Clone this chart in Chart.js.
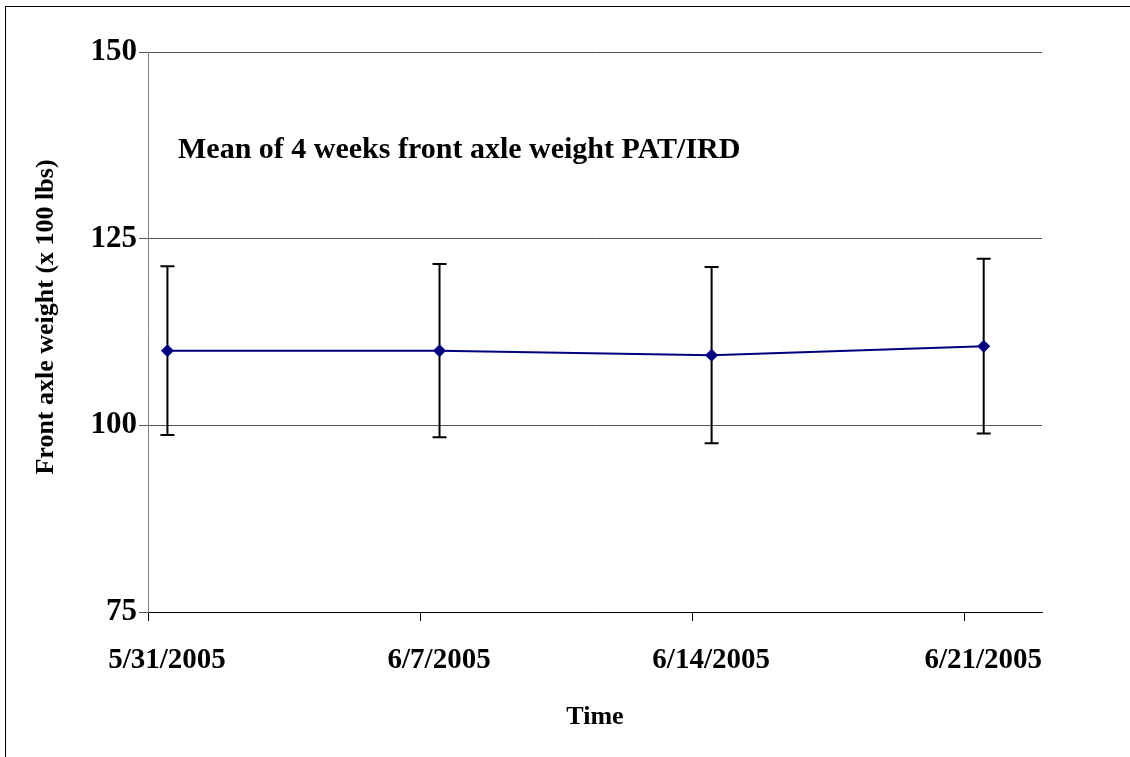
<!DOCTYPE html>
<html>
<head>
<meta charset="utf-8">
<script src="https://cdn.jsdelivr.net/npm/chart.js@4.4.1/dist/chart.umd.min.js"></script>
<style>
  html, body { margin: 0; padding: 0; background: #fff; }
  #wrap { position: relative; width: 1130px; height: 757px; }
  #frame {
    position: absolute; left: 5px; top: 6px; right: -2px; bottom: -2px;
    border-left: 1px solid #000; border-top: 1px solid #000;
    pointer-events: none;
  }
</style>
</head>
<body>
<div id="wrap">
  <canvas id="chart"></canvas>
  <div id="frame"></div>
</div>
<script>
// Weekly means with +/- error, days counted from 5/31/2005
const dayOffsets = [0.5, 7.5, 14.5, 21.5];
const meanWeight = [110.0, 110.0, 109.4, 110.6];
const errorWeight = [11.3, 11.6, 11.8, 11.7];

// Date axis: tick marks on day boundaries, labels centred in the day
const tickDays = [0, 7, 14, 21];
const tickLabels = ['5/31/2005', '6/7/2005', '6/14/2005', '6/21/2005'];

const chartTitle = 'Mean of 4 weeks front axle weight PAT/IRD';
const yTitle = 'Front axle weight (x 100 lbs)';
const serif = "'Liberation Serif', 'Times New Roman', serif";

// Draws vertical error bars with caps under each point
const errorBars = {
  id: 'errorBars',
  beforeDatasetsDraw(chart) {
    const { ctx, scales: { x, y } } = chart;
    ctx.save();
    ctx.strokeStyle = '#000';
    ctx.lineWidth = 2;
    dayOffsets.forEach((d, i) => {
      const px = x.getPixelForValue(d);
      const top = y.getPixelForValue(meanWeight[i] + errorWeight[i]);
      const bot = y.getPixelForValue(meanWeight[i] - errorWeight[i]);
      ctx.beginPath();
      ctx.moveTo(px, top); ctx.lineTo(px, bot);
      ctx.moveTo(px - 7, top); ctx.lineTo(px + 7, top);
      ctx.moveTo(px - 7, bot); ctx.lineTo(px + 7, bot);
      ctx.stroke();
    });
    ctx.restore();
  }
};

// Chart title inside the plot area and the vertical axis title
const textLabels = {
  id: 'textLabels',
  afterDraw(chart) {
    const { ctx, chartArea } = chart;
    ctx.save();
    ctx.fillStyle = '#000';
    ctx.textBaseline = 'middle';
    ctx.font = 'bold 30px ' + serif;
    ctx.fillText(chartTitle, chartArea.left + 30, chartArea.top + 98);

    ctx.font = 'bold 26px ' + serif;
    ctx.textAlign = 'center';
    ctx.translate(46, chartArea.top + 265);
    ctx.rotate(-Math.PI / 2);
    ctx.fillText(yTitle, 0, 0);
    ctx.restore();
  }
};

new Chart(document.getElementById('chart'), {
  type: 'line',
  data: {
    datasets: [{
      data: dayOffsets.map((d, i) => ({ x: d, y: meanWeight[i] })),
      borderColor: '#000080',
      backgroundColor: '#000080',
      borderWidth: 2,
      pointStyle: 'rectRot',
      pointRadius: 6.5,
      pointBorderWidth: 0,
      pointBackgroundColor: '#000080',
      tension: 0
    }]
  },
  options: {
    responsive: true,
    maintainAspectRatio: false,
    animation: false,
    layout: { padding: { left: 0, top: 52, right: 88, bottom: 0 } },
    plugins: {
      legend: { display: false },
      tooltip: { enabled: false }
    },
    scales: {
      x: {
        type: 'linear',
        min: 0,
        max: 23,
        afterBuildTicks: (scale) => { scale.ticks = tickDays.map(v => ({ value: v })); },
        afterFit: (scale) => { scale.height = 145; },
        border: { color: '#000', width: 1 },
        grid: { drawOnChartArea: false, drawTicks: true, tickLength: 9, color: '#000' },
        ticks: {
          color: '#000',
          padding: 22,
          labelOffset: 19,
          maxRotation: 0,
          autoSkip: false,
          font: { family: serif, size: 29, weight: 'bold' },
          callback: (v) => tickLabels[tickDays.indexOf(v)]
        },
        title: {
          display: true,
          text: 'Time',
          color: '#000',
          padding: { top: 0, bottom: 24 },
          font: { family: serif, size: 26, weight: 'bold' }
        }
      },
      y: {
        min: 75,
        max: 150,
        afterFit: (scale) => { scale.width = 148; },
        border: { color: '#808080', width: 1 },
        grid: { color: '#555', tickLength: 9, drawTicks: true },
        ticks: {
          stepSize: 25,
          color: '#000',
          padding: 2,
          font: { family: serif, size: 31, weight: 'bold' }
        }
      }
    }
  },
  plugins: [errorBars, textLabels]
});
</script>
</body>
</html>
